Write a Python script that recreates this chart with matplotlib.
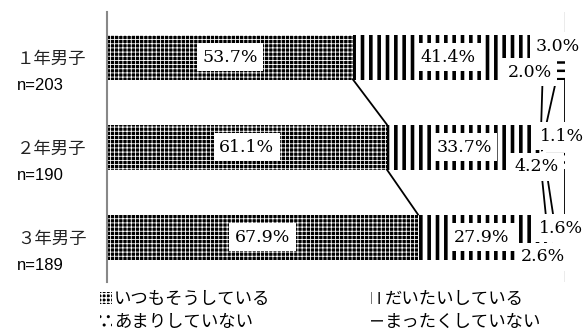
import numpy as np
import matplotlib
matplotlib.use('Agg')
from matplotlib import pyplot as plt
from matplotlib.patches import Patch

jp_font = ['Noto Sans CJK JP', 'DejaVu Sans']
num_font = 'DejaVu Serif'

# データ
grades = ['１年男子', '２年男子', '３年男子']
counts = ['n=203', 'n=190', 'n=189']
answers = ['いつもそうしている', 'だいたいしている', 'あまりしていない', 'まったくしていない']
always = [53.7, 61.1, 67.9]
mostly = [41.4, 33.7, 27.9]
rarely = [3.0, 1.1, 1.6]
never = [2.0, 4.2, 2.6]

series = [always, mostly, rarely, never]

# 塗りの模様 (face, hatch色, hatch, 線幅)
styles = [
    ('black', 'white', '++++', 0.6),
    ('white', 'black', '||', 2.6),
    ('white', 'black', '..', 0.8),
    ('white', 'black', '--', 1.8),
]

# 小さい値のラベルのずらし (x: %, y: カテゴリ単位)
small_offsets = {
    (0, 2): (1.9, -0.12), (0, 3): (-6.8, 0.17),
    (1, 2): (4.0, -0.12), (1, 3): (-4.3, 0.22),
    (2, 2): (2.5, -0.10), (2, 3): (-3.5, 0.22),
}

fig = plt.figure(figsize=(5.85, 3.31), dpi=100)
ax = fig.add_axes([107 / 585, 1 - 282 / 331, 458 / 585, 270 / 331])

y = np.arange(len(grades))
left = np.zeros(len(grades))
bounds = []
handles = []
for k, vals in enumerate(series):
    face, hcol, hatch, hlw = styles[k]
    with plt.rc_context({'hatch.linewidth': hlw}):
        bars = ax.barh(y, vals, left=left, height=0.5, color=face,
                       edgecolor=hcol, linewidth=0, hatch=hatch, zorder=2)
        for b in bars:
            if hasattr(b, 'set_hatch_linewidth'):
                b.set_hatch_linewidth(hlw)
        h = Patch(facecolor=face, edgecolor=hcol, hatch=hatch, linewidth=0)
        if hasattr(h, 'set_hatch_linewidth'):
            h.set_hatch_linewidth(hlw)
        handles.append(h)
    for i, v in enumerate(vals):
        cx = left[i] + v / 2
        cy = y[i]
        if (i, k) in small_offsets:
            dx, dy = small_offsets[(i, k)]
            cx += dx
            cy += dy
        ax.text(cx, cy, f'{v:.1f}%', ha='center', va='center', fontsize=12.5,
                family=num_font, zorder=5,
                bbox=dict(facecolor='white', edgecolor='none', pad=4))
    left = left + np.array(vals)
    bounds.append(left.copy())

# 系列線
for b in bounds:
    for i in range(len(grades) - 1):
        ax.plot([min(b[i], 100), min(b[i + 1], 100)], [y[i] + 0.25, y[i + 1] - 0.25],
                color='black', lw=1.3, zorder=3)

ax.axvline(100, color='#999999', lw=1, zorder=1)
ax.set_xlim(0, 100)
ax.set_ylim(2.5, -0.5)
ax.set_xticks([])
ax.set_yticks([])
for s in ['top', 'right', 'bottom']:
    ax.spines[s].set_visible(False)
ax.spines['left'].set_color('#888888')
ax.spines['left'].set_linewidth(1.5)

tr = ax.get_yaxis_transform()
for i in range(len(grades)):
    ax.text(-0.045, y[i] + 0.02, grades[i], transform=tr, ha='right', va='center',
            fontsize=12.5, family=jp_font, color='#222222')
    ax.text(-0.197, y[i] + 0.32, counts[i], transform=tr, ha='left', va='center',
            fontsize=12, family='Liberation Sans', color='black')

# 凡例は行ごとに並べる (ncol=2 は列方向に埋まるので順番を入れ替える)
order = [0, 2, 1, 3]
leg = fig.legend([handles[j] for j in order], [answers[j] for j in order],
                 loc='upper left', ncol=2,
                 bbox_to_anchor=(100 / 585, 1 - 290 / 331), frameon=False,
                 prop={'family': jp_font, 'size': 12.5},
                 handlelength=0.7, handleheight=0.7, handletextpad=0.1,
                 columnspacing=5.8, labelspacing=0.3, borderpad=0, borderaxespad=0)

fig.savefig('out.png', dpi=100)
